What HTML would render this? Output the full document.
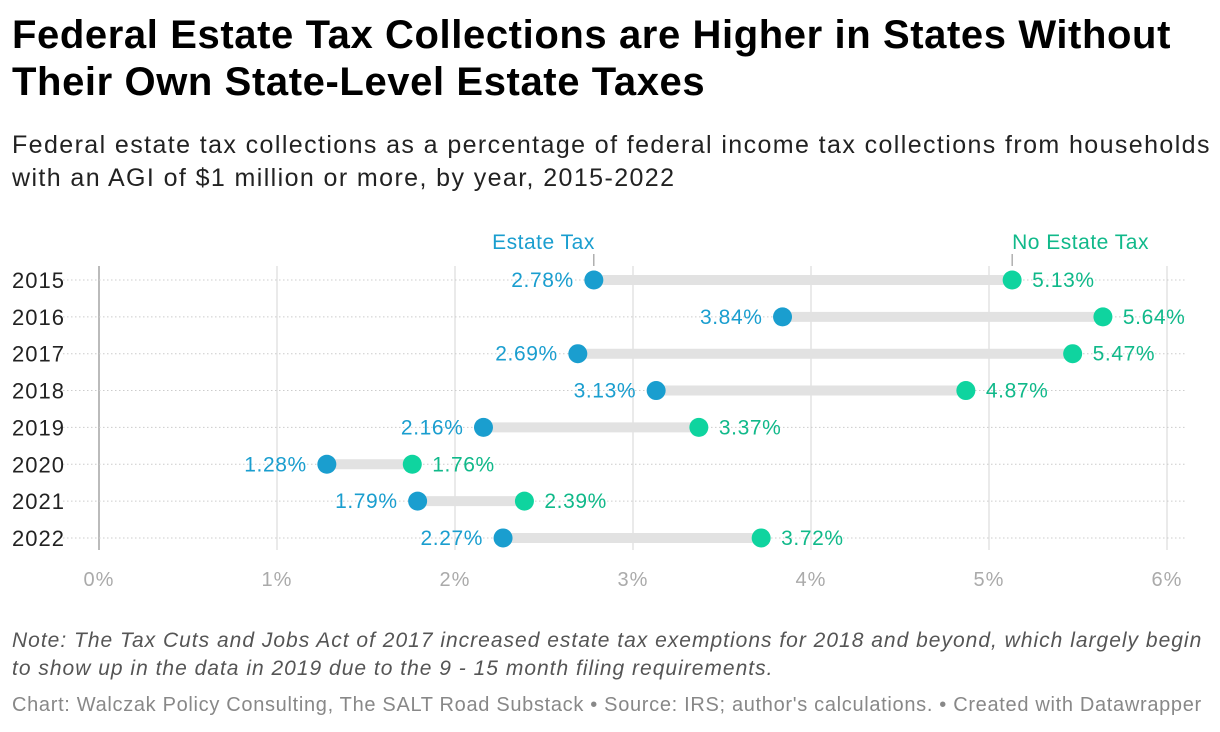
<!DOCTYPE html>
<html><head><meta charset="utf-8"><style>
body{margin:0;width:1220px;height:732px;background:#fff;font-family:"Liberation Sans",sans-serif;overflow:hidden;position:relative}
h1{position:absolute;left:12px;top:12px;margin:0;font-size:40px;line-height:47px;font-weight:bold;color:#000;width:1210px;letter-spacing:0.6px;white-space:nowrap}
.sub{position:absolute;left:12px;top:129px;font-size:25px;line-height:33px;color:#222;width:1210px;letter-spacing:1.4px;white-space:nowrap}
.note{position:absolute;left:12px;top:627px;font-size:21px;line-height:28px;font-style:italic;color:#555;width:1210px;letter-spacing:1.0px;white-space:nowrap}
.foot{position:absolute;left:12px;top:694px;font-size:20px;color:#888;letter-spacing:0.68px;white-space:nowrap}
svg{position:absolute;left:0;top:0}
</style></head><body>
<h1>Federal Estate Tax Collections are Higher in States Without<br>Their Own State-Level Estate Taxes</h1>
<div class="sub">Federal estate tax collections as a percentage of federal income tax collections from households<br>with an AGI of $1 million or more, by year, 2015-2022</div>
<svg id="chart" width="1220" height="732"></svg>
<div class="note">Note: The Tax Cuts and Jobs Act of 2017 increased estate tax exemptions for 2018 and beyond, which largely begin<br>to show up in the data in 2019 due to the 9 - 15 month filing requirements.</div>
<div class="foot">Chart: Walczak Policy Consulting, The SALT Road Substack • Source: IRS; author's calculations. • Created with Datawrapper</div>
<script>
const years=["2015","2016","2017","2018","2019","2020","2021","2022"];
const estateTax=[2.78,3.84,2.69,3.13,2.16,1.28,1.79,2.27];
const noEstateTax=[5.13,5.64,5.47,4.87,3.37,1.76,2.39,3.72];
const ticks=[0,1,2,3,4,5,6];
const tickLabels=["0%","1%","2%","3%","4%","5%","6%"];
const NS="http://www.w3.org/2000/svg";
const svg=document.getElementById('chart');
const x=v=>99+v*178;
const y=i=>280+i*36.85;
function mk(t,a,txt){const e=document.createElementNS(NS,t);for(const k in a)e.setAttribute(k,a[k]);if(txt!==undefined)e.textContent=txt;svg.appendChild(e);return e;}
ticks.forEach((t,i)=>{
 const l=mk('line',{x1:x(t),x2:x(t),y1:266,y2:550,stroke:i==0?'#bbb':'#e3e3e3','stroke-width':i==0?2:1.5});
 
 const tx=mk('text',{x:x(t),y:586,'text-anchor':'middle','font-size':20,'letter-spacing':1,fill:'#aaa'},tickLabels[i]);
 
});
years.forEach((yr,i)=>{
 const yy=y(i);
 const g=mk('line',{x1:63,x2:1186,y1:yy,y2:yy,stroke:'#ccc','stroke-width':1,'stroke-dasharray':'1.5,2.5'});
 
 const lab=mk('text',{x:12,y:yy+8,'font-size':22,'letter-spacing':1,fill:'#222'},yr);
 
 const b=mk('line',{x1:x(estateTax[i]),x2:x(noEstateTax[i]),y1:yy,y2:yy,stroke:'#e2e2e2','stroke-width':10});
 
 const c1=mk('circle',{cx:x(estateTax[i]),cy:yy,r:9.5,fill:'#1a9ecf'});
 
 const c2=mk('circle',{cx:x(noEstateTax[i]),cy:yy,r:9.5,fill:'#0fd49f'});
 
 const t1=mk('text',{x:x(estateTax[i])-20,y:yy+7,'text-anchor':'end','font-size':21,'letter-spacing':0.6,fill:'#1a9ecf'},estateTax[i].toFixed(2)+'%');
 
 const t2=mk('text',{x:x(noEstateTax[i])+20,y:yy+7,'font-size':21,'letter-spacing':0.6,fill:'#10b98a'},noEstateTax[i].toFixed(2)+'%');
 
});
const l1=mk('text',{x:x(estateTax[0])+1,y:249,'text-anchor':'end','font-size':21,'letter-spacing':0.5,fill:'#1a9ecf'},'Estate Tax');

const k1=mk('line',{x1:x(estateTax[0]),x2:x(estateTax[0]),y1:254,y2:266,stroke:'#888','stroke-width':1});

const l2=mk('text',{x:x(noEstateTax[0]),y:249,'font-size':21,'letter-spacing':0.5,fill:'#10b98a'},'No Estate Tax');

const k2=mk('line',{x1:x(noEstateTax[0]),x2:x(noEstateTax[0]),y1:254,y2:266,stroke:'#888','stroke-width':1});

</script>
</body></html>
